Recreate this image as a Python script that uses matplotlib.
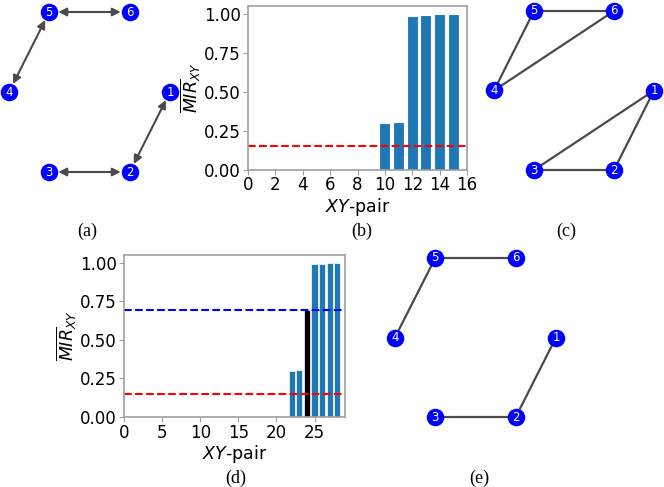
import numpy as np
from matplotlib import pyplot as plt

# Dados dos graficos de barras
mir_b = [0, 0, 0, 0, 0, 0.005, 0.005, 0.005, 0.005, 0.005,
         0.297, 0.305, 0.988, 0.993, 1.0, 1.0]
limiar_b = 0.15

mir_d = [0.001, 0.003, 0.003, 0.003, 0.003, 0.003, 0.003, 0.003, 0.003, 0.003,
         0.003, 0.003, 0.003, 0.003, 0.003, 0.003, 0.008, 0.008, 0.008, 0.008,
         0.008, 0.008, 0.296, 0.306, 0.695, 0.99, 0.993, 1.0, 1.0]
destaque_d = 24
limiar_d_baixo = 0.15
limiar_d_alto = 0.695

# Grafos
nos = [1, 2, 3, 4, 5, 6]
arestas_a = [(5, 6), (5, 4), (1, 2), (3, 2)]
arestas_c = [(5, 6), (5, 4), (4, 6), (1, 3), (1, 2), (3, 2)]
arestas_e = [(5, 6), (5, 4), (1, 2), (3, 2)]

W, H = 664, 487
fig = plt.figure(figsize=(W / 100, H / 100), dpi=100)


def caixa(esq, topo, dir, base):
    return [esq / W, 1 - base / H, (dir - esq) / W, (base - topo) / H]


def caixa_grafo(cx, cy, rx, ry, m=1.25):
    # ry e a distancia vertical do centro ate os nos de cima (sin 60)
    ry = ry / np.sin(np.deg2rad(60))
    return caixa(cx - m * rx, cy - m * ry, cx + m * rx, cy + m * ry)


# layout circular (hexagono)
angulos = np.deg2rad([0, -60, -120, 180, 120, 60])
pos = {n: (np.cos(a), np.sin(a)) for n, a in zip(nos, angulos)}

COR_NO = '#0000ff'
COR_ARESTA = '#4a4a4a'


def desenha_grafo(ax, arestas, setas=False):
    ax.set_xlim(-1.25, 1.25)
    ax.set_ylim(-1.25, 1.25)
    ax.axis('off')
    for u, v in arestas:
        if setas:
            ax.annotate('', xy=pos[v], xytext=pos[u],
                        arrowprops=dict(arrowstyle='<|-|>', color=COR_ARESTA, lw=1.5,
                                        mutation_scale=12, shrinkA=6.5, shrinkB=6.5),
                        annotation_clip=False)
        else:
            ax.plot([pos[u][0], pos[v][0]], [pos[u][1], pos[v][1]],
                    color=COR_ARESTA, lw=1.6, zorder=1, clip_on=False)
    xs = [pos[n][0] for n in nos]
    ys = [pos[n][1] for n in nos]
    ax.scatter(xs, ys, s=135, color=COR_NO, zorder=2, clip_on=False)
    for n in nos:
        ax.text(pos[n][0], pos[n][1], str(n), color='white', fontsize=8.5,
                ha='center', va='center', zorder=3)


def estilo_barras(ax):
    for s in ax.spines.values():
        s.set_color('#a0a0a0')
        s.set_linewidth(1.2)
    ax.tick_params(labelsize=12, color='#a0a0a0', length=3.5, pad=1.5)
    ax.set_xlabel('$XY$-pair', fontsize=12.5, labelpad=1)
    ax.set_ylabel(r'$\overline{MIR}_{XY}$', fontsize=12.5, labelpad=1)
    ax.set_yticks([0, 0.25, 0.5, 0.75, 1.0])
    ax.set_ylim(0, 1.05)


# (a)
ax_a = fig.add_axes(caixa_grafo(89.5, 92, 80.5, 80))
desenha_grafo(ax_a, arestas_a, setas=True)

# (b)
ax_b = fig.add_axes(caixa(248, 6, 467, 169.5))
ax_b.bar(range(len(mir_b)), mir_b, width=0.8, color='#1f77b4', edgecolor='white', linewidth=0.8)
ax_b.axhline(limiar_b, color='red', ls='--', lw=1.5)
ax_b.set_xlim(0, len(mir_b))
ax_b.set_xticks(range(0, 17, 2))
estilo_barras(ax_b)

# (c)
ax_c = fig.add_axes(caixa_grafo(574, 90.5, 80, 79.5))
desenha_grafo(ax_c, arestas_c)

# (d)
ax_d = fig.add_axes(caixa(124, 255, 345, 417))
cores_d = ['black' if i == destaque_d else '#1f77b4' for i in range(len(mir_d))]
ax_d.bar(range(len(mir_d)), mir_d, width=0.8, color=cores_d, edgecolor='white', linewidth=0.5)
ax_d.axhline(limiar_d_alto, color='blue', ls='--', lw=1.5)
ax_d.axhline(limiar_d_baixo, color='red', ls='--', lw=1.5)
ax_d.set_xlim(0, len(mir_d))
ax_d.set_xticks(range(0, 26, 5))
estilo_barras(ax_d)

# (e)
ax_e = fig.add_axes(caixa_grafo(475.5, 337.5, 80.5, 79.5))
desenha_grafo(ax_e, arestas_e)

# Legendas dos paineis
for rot, x, y in [('(a)', 87, 231), ('(b)', 362, 231), ('(c)', 566, 231),
                  ('(d)', 236, 478), ('(e)', 479, 478)]:
    fig.text(x / W, 1 - y / H, rot, ha='center', va='center',
             fontsize=13, family='Liberation Serif')

plt.savefig('out.png', dpi=100)
